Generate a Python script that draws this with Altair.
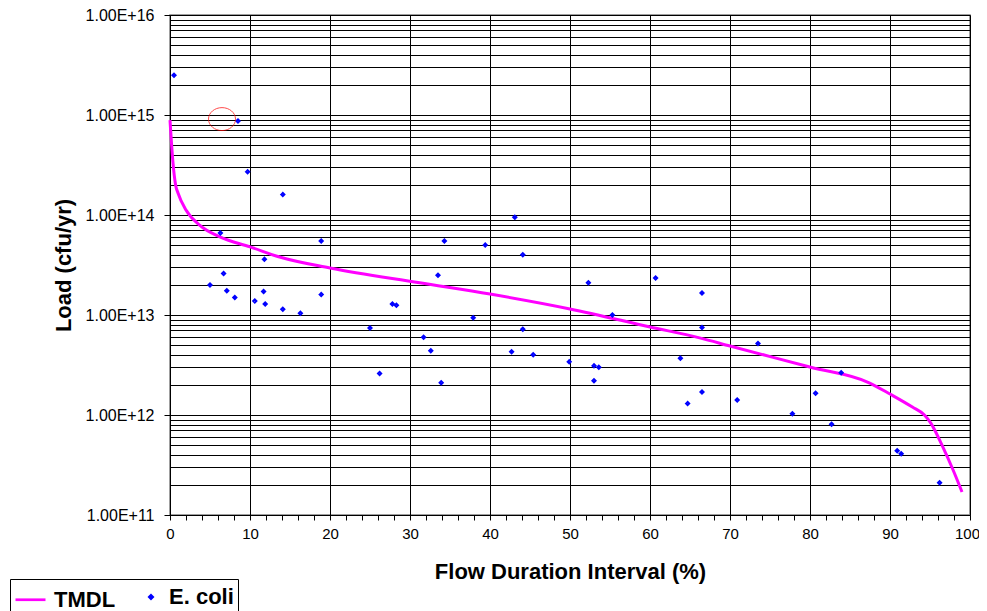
import altair as alt
import pandas as pd

# E. coli observations
ecoli_x = [0.5, 8.5, 9.7, 14.1, 6.3, 18.9, 11.8, 43.1, 34.3, 39.4, 44.1, 6.7, 5.0, 7.1, 8.1,
           10.6, 11.7, 11.9, 14.1, 16.3, 18.9, 25.0, 26.2, 27.8, 28.3, 31.7, 32.6, 33.5, 52.3,
           60.7, 37.9, 55.3, 33.9, 44.1, 42.7, 45.4, 49.9, 53.0, 53.6, 53.0, 63.8, 64.7, 66.5,
           66.5, 73.5, 66.5, 70.9, 77.8, 80.7, 83.9, 82.7, 90.9, 91.4, 96.2]
ecoli_y = [2.5e15, 8.7e14, 2.7e14, 1.6e14, 6.6e13, 5.5e13, 3.6e13, 9.5e13, 5.5e13, 5.0e13, 4.0e13,
           2.6e13, 2.0e13, 1.75e13, 1.5e13, 1.38e13, 1.72e13, 1.29e13, 1.14e13, 1.04e13, 1.6e13,
           7.4e12, 2.6e12, 1.29e13, 1.25e13, 6.0e12, 4.4e12, 2.5e13, 2.1e13, 2.34e13, 9.4e12,
           1.0e13, 2.1e12, 7.2e12, 4.3e12, 4.0e12, 3.4e12, 3.1e12, 3.0e12, 2.2e12, 3.7e12, 1.3e12,
           1.66e13, 7.5e12, 5.2e12, 1.7e12, 1.41e12, 1.03e12, 1.65e12, 2.65e12, 8.1e11, 4.4e11,
           4.1e11, 2.1e11]

# TMDL curve
tmdl_x = [0.0, 0.35, 0.7, 1.0, 2.0, 3.7, 6.3, 10.0, 13.7, 20.0, 31.2, 40.0, 50.0, 60.0, 66.2,
          70.0, 80.1, 87.4, 90.0, 92.8, 94.3, 95.1, 96.6, 97.9, 99.0]
tmdl_y = [8.9e14, 3.5e14, 2.0e14, 1.66e14, 1.12e14, 7.9e13, 6.0e13, 4.8e13, 3.8e13, 2.95e13,
          2.1e13, 1.62e13, 1.15e13, 7.6e12, 5.9e12, 4.9e12, 3.0e12, 2.1e12, 1.62e12, 1.2e12,
          1.0e12, 8.3e11, 4.8e11, 2.8e11, 1.7e11]

# red ellipse annotation
note_x = [6.5]
note_y = [9.1e14]

series_names = ["TMDL", "E. coli"]
series_colors = ["#FF00FF", "#0000FF"]

x_ticks = list(range(0, 101, 2))
y_ticks = [m * 10 ** k for k in range(11, 16) for m in range(1, 10)] + [10 ** 16]

FONT = "Liberation Sans"

df_e = pd.DataFrame({"x": ecoli_x, "y": ecoli_y, "series": "E. coli"})
df_t = pd.DataFrame({"x": tmdl_x, "y": tmdl_y})
df_n = pd.DataFrame({"x": note_x, "y": note_y})

major_test = "abs(log(datum.value)/LN10 - round(log(datum.value)/LN10)) < 0.001"

x_enc = alt.X(
    "x:Q",
    scale=alt.Scale(domain=[0, 100], nice=False, zero=False),
    axis=alt.Axis(
        title="Flow Duration Interval (%)",
        values=x_ticks,
        tickCount=200,
        format="d",
        labelExpr="datum.value % 10 === 0 ? datum.label : ''",
        labelOverlap=False,
        labelBound=False,
        labelFlush=False,
        labelOffset={"condition": {"test": "datum.value === 100", "value": -3}, "value": 0},
        grid=True,
        gridColor="#000000",
        gridOpacity={"condition": {"test": "datum.value % 10 !== 0", "value": 0}, "value": 1},
        tickSize=5,
        tickColor="#000000",
        domainColor="#000000",
        labelFont=FONT, labelFontSize=15, labelColor="#000000", labelPadding=6,
        titleFont=FONT, titleFontSize=22, titleFontWeight="bold", titleColor="#000000",
        titlePadding=20,
    ),
)
y_enc = alt.Y(
    "y:Q",
    scale=alt.Scale(type="log", domain=[1e11, 1e16], nice=False),
    axis=alt.Axis(
        title="Load (cfu/yr)",
        values=y_ticks,
        tickCount=200,
        labelExpr=major_test + " ? '1.00E+' + round(log(datum.value)/LN10) : ''",
        labelOverlap=False,
        labelBound=False,
        labelFlush=False,
        grid=True,
        gridColor="#000000",
        tickSize=6,
        tickColor="#000000",
        tickOpacity={"condition": {"test": major_test, "value": 1}, "value": 0},
        domainColor="#000000",
        labelFont=FONT, labelFontSize=16, labelColor="#000000", labelPadding=10,
        titleFont=FONT, titleFontSize=22, titleFontWeight="bold", titleColor="#000000",
        titlePadding=10,
    ),
)

line = alt.Chart(df_t).mark_line(color="#FF00FF", strokeWidth=3, interpolate="monotone").encode(
    x=x_enc, y=y_enc
)

points = alt.Chart(df_e).mark_point(filled=False, strokeWidth=2, opacity=1).encode(
    x="x:Q",
    y="y:Q",
    color=alt.Color("series:N", scale=alt.Scale(domain=series_names, range=series_colors), title=None,
                    legend=alt.Legend(
                        orient="none", legendX=-160, legendY=564, direction="horizontal",
                        strokeColor="#000000", fillColor="#FFFFFF", padding=4,
                        labelFont=FONT, labelFontSize=22, labelFontWeight="bold", labelColor="#000000",
                        labelOffset=7, columnPadding=24, symbolStrokeWidth=2.7, cornerRadius=0,
                    )),
    shape=alt.Shape("series:N", scale=alt.Scale(domain=series_names, range=["M -1 0 L 1 0", "diamond"]),
                    title=None),
    size=alt.Size("series:N", scale=alt.Scale(domain=series_names, range=[900, 10]), title=None),
)

note = alt.Chart(df_n).mark_point(
    shape="M -1 0 A 1 0.85 0 1 0 1 0 A 1 0.85 0 1 0 -1 0 Z",
    size=729, color="#FF0000", filled=False, strokeWidth=1,
).encode(x="x:Q", y="y:Q")

chart = (
    alt.layer(line, points, note)
    .properties(
        width=800, height=500,
        autosize=alt.AutoSizeParams(type="none"),
        padding={"left": 162, "top": 7, "right": 9, "bottom": 96},
        background="#FFFFFF",
    )
    .configure_view(stroke="#808080", strokeWidth=1.5)
)

chart.save("out.html", embed_options={"renderer": "svg", "actions": False})
